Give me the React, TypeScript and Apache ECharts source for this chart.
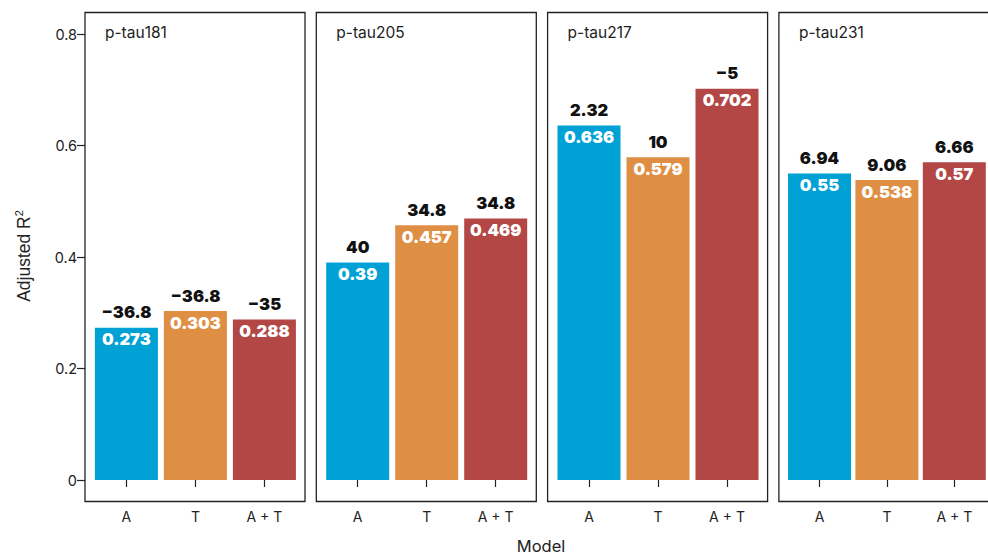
import React, { useEffect, useRef } from "react";
import * as echarts from "echarts";

// Models on the x axis of every panel
const models = ["A", "T", "A + T"];
// Biomarker panels
const panels = ["p-tau181", "p-tau205", "p-tau217", "p-tau231"];
// Adjusted R² per panel (A, T, A + T)
const r2Values = [
  [0.273, 0.303, 0.288],
  [0.39, 0.457, 0.469],
  [0.636, 0.579, 0.702],
  [0.55, 0.538, 0.57],
];
// Numbers printed above each bar
const topLabels = [
  ["−36.8", "−36.8", "−35"],
  ["40", "34.8", "34.8"],
  ["2.32", "10", "−5"],
  ["6.94", "9.06", "6.66"],
];
// Y axis range and tick step
const yMin = 0;
const yMax = 0.8;
const yStep = 0.2;

const modelColors = ["#00A1D5", "#DF8F44", "#B24745"];

const FONT = "Inter, 'Noto Sans', sans-serif";
const ARIAL = "'Liberation Sans', Arial, sans-serif";

export default function App() {
  const ref = useRef<HTMLDivElement>(null);

  useEffect(() => {
    if (!ref.current) return;
    const chart = echarts.init(ref.current, undefined, { renderer: "svg" });

    // Panel frame geometry (pixels)
    const frameLeft0 = 85;
    const frameStep = 231.3;
    const frameWidth = 220;
    const frameTop = 12.5;
    const frameBottom = 501.5;
    const band = 69;
    const gridTop = 34;
    const gridHeight = 446;

    const grids: any[] = [];
    const xAxes: any[] = [];
    const yAxes: any[] = [];
    const series: any[] = [];
    const graphics: any[] = [];

    panels.forEach((name, i) => {
      const fl = frameLeft0 + i * frameStep;
      const gl = fl + 0.6 * band - 0.5 * band;
      grids.push({ left: gl, top: gridTop, width: band * 3, height: gridHeight });
      xAxes.push({
        type: "category",
        gridIndex: i,
        data: models,
        offset: frameBottom - (gridTop + gridHeight),
        axisLine: { show: false },
        axisTick: { show: true, alignWithLabel: true, length: 7, lineStyle: { color: "#222", width: 1.2 } },
        axisLabel: { color: "#222", fontSize: 14, fontFamily: FONT, margin: 8 },
      });
      yAxes.push({
        type: "value",
        gridIndex: i,
        min: yMin,
        max: yMax,
        interval: yStep,
        offset: gl - fl,
        splitLine: { show: false },
        axisLine: { show: false },
        axisTick: { show: i === 0, length: 8, lineStyle: { color: "#222", width: 1.2 } },
        axisLabel: {
          show: i === 0,
          color: "#222",
          fontSize: 14.5,
          fontFamily: FONT,
          margin: 8,
          formatter: (v: number) => (v === 0 ? "0" : String(+v.toFixed(1))),
        },
      });
      const values = r2Values[i];
      series.push({
        type: "bar",
        xAxisIndex: i,
        yAxisIndex: i,
        barWidth: 63,
        barGap: "-100%",
        data: values.map((v, j) => ({ value: v, itemStyle: { color: modelColors[j] } })),
        label: {
          show: true,
          position: "insideTop",
          distance: 3,
          color: "#fff",
          fontSize: 16.5,
          fontWeight: 900,
          fontFamily: FONT,
          formatter: (p: any) => String(p.value),
        },
      });
      series.push({
        type: "bar",
        xAxisIndex: i,
        yAxisIndex: i,
        barWidth: 63,
        barGap: "-100%",
        silent: true,
        data: values.map((v) => ({ value: v, itemStyle: { color: "transparent" } })),
        label: {
          show: true,
          position: "top",
          distance: 7,
          color: "#111",
          fontSize: 16.5,
          fontWeight: 900,
          fontFamily: FONT,
          formatter: (p: any) => topLabels[i][p.dataIndex],
        },
      });
      graphics.push({
        type: "rect",
        shape: { x: fl, y: frameTop, width: frameWidth, height: frameBottom - frameTop },
        style: { fill: "none", stroke: "#222", lineWidth: 1.3 },
        z: 10,
      });
      graphics.push({
        type: "text",
        x: fl + 20,
        y: 32,
        style: {
          text: name,
          fill: "#222",
          fontSize: 15.5,
          fontFamily: FONT,
          verticalAlign: "middle",
        },
        z: 10,
      });
    });

    graphics.push({
      type: "text",
      x: 541,
      y: 546,
      style: { text: "Model", fill: "#222", fontSize: 16.5, fontFamily: FONT, align: "center", verticalAlign: "middle" },
    });
    graphics.push({
      type: "text",
      x: 24,
      y: 256,
      rotation: Math.PI / 2,
      style: {
        text: "Adjusted R{sup|2}",
        fill: "#222",
        fontSize: 17.5,
        fontFamily: ARIAL,
        align: "center",
        verticalAlign: "middle",
        rich: {
          sup: { fontSize: 11, verticalAlign: "top", padding: [0, 0, 10, 0], fill: "#222", fontFamily: ARIAL },
        },
      },
    });

    chart.setOption({
      animation: false,
      backgroundColor: "#fff",
      grid: grids,
      xAxis: xAxes,
      yAxis: yAxes,
      series,
      graphic: graphics,
    });

    return () => chart.dispose();
  }, []);

  return <div ref={ref} style={{ width: 988, height: 556, position: "absolute", left: 0, top: 0 }} />;
}
